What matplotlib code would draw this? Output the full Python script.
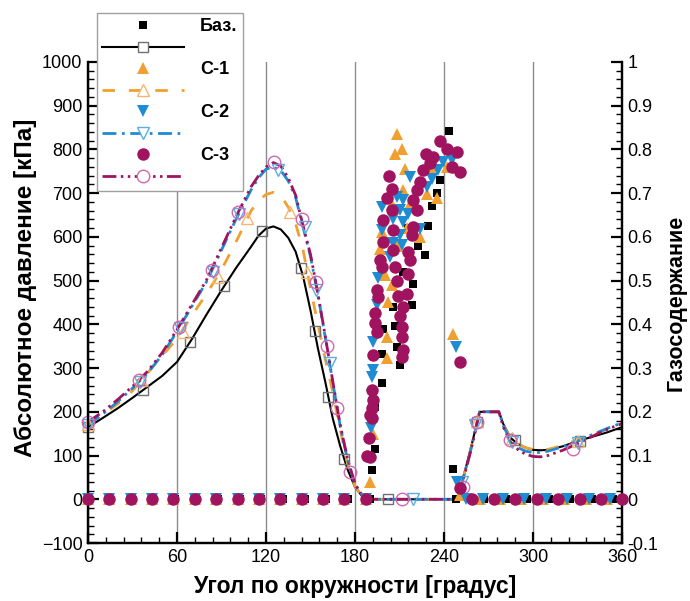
import matplotlib
matplotlib.use("Agg")
import matplotlib.pyplot as plt
from matplotlib.lines import Line2D
from matplotlib.ticker import MultipleLocator, FuncFormatter

plt.rcParams['font.family'] = ['Liberation Sans', 'DejaVu Sans']

# ---------------- data ----------------
# pressure curves (left axis, kPa)
p_x = [0, 10, 20, 30, 40, 50, 60, 70, 80, 90, 100, 110, 115, 120, 125, 130, 135, 140, 145, 150,
       155, 160, 165, 170, 175, 180, 185, 190, 200, 210, 220, 230, 240, 249, 253, 258, 262, 264,
       270, 277, 280, 285, 290, 295, 300, 305, 310, 320, 330, 340, 350, 360]
p_base = [165, 186, 208, 232, 257, 282, 314, 366, 423, 478, 530, 578, 603, 619, 624, 617, 598, 566, 510, 432,
          345, 268, 185, 122, 68, 28, 6, 0, 0, 0, 0, 0, 0, 0, 50, 115, 172, 200,
          200, 200, 172, 140, 126, 118, 113, 112, 113, 121, 133, 143, 153, 165]
p_c1 = [172, 194, 218, 248, 288, 328, 367, 420, 470, 525, 590, 660, 683, 697, 702, 695, 668, 630, 570, 482,
        400, 320, 245, 160, 80, 30, 6, 0, 0, 0, 0, 0, 0, 0, 50, 115, 172, 200,
        200, 200, 170, 138, 126, 118, 114, 113, 114, 123, 136, 148, 160, 172]
p_c2 = [170, 195, 223, 254, 288, 330, 384, 441, 498, 570, 642, 708, 735, 755, 760, 752, 728, 690, 622, 555,
        468, 370, 268, 168, 90, 34, 8, 0, 0, 0, 0, 0, 0, 0, 48, 112, 170, 200,
        200, 200, 168, 133, 118, 110, 107, 107, 110, 120, 133, 148, 162, 175]
p_c3 = [177, 200, 228, 258, 292, 335, 388, 445, 502, 575, 648, 715, 740, 760, 770, 762, 735, 695, 625, 560,
        470, 372, 270, 170, 92, 35, 8, 0, 0, 0, 0, 0, 0, 0, 45, 110, 170, 200,
        200, 200, 165, 130, 113, 103, 98, 97, 100, 112, 127, 144, 160, 173]

# hollow markers on the pressure curves
mk_base_x = [0, 37, 68.8, 91.7, 117, 143.6, 153, 161.8, 172.6, 202, 262, 288, 332]
mk_base_y = [165, 249, 359, 487, 613, 528, 384, 235, 91, 0, 177, 135, 133]
mk_c1_x = [0, 36, 64, 87.6, 107, 136, 147.6, 262, 286, 330]
mk_c1_y = [172, 272, 382, 508, 643, 656, 519, 180, 140, 134]
mk_c2_x = [0, 35, 62, 84, 102, 128, 146, 154, 163, 219, 252, 261, 286, 330]
mk_c2_y = [170, 268, 392, 520, 652, 752, 623, 478, 312, 0, 40, 170, 130, 128]
mk_c3_x = [0, 34.6, 61.4, 83.4, 101, 125.4, 144, 153.5, 161, 168, 176.6, 212, 253, 262, 284.5, 327]
mk_c3_y = [177, 272, 394, 524, 656, 771, 640, 497, 350, 208, 62, 0, 28, 177, 135, 116]

# gas content (right axis)
g_base_x = [0, 14.6, 29.2, 43.8, 58.4, 73, 87.6, 102.2, 116.8, 131.4, 146, 160.6, 175.2, 189.8,
            243.6, 237.3, 231.7, 229, 227.4, 219.3, 212.6, 218.2, 207, 205.8, 199, 208, 198.4, 210.3,
            198, 193.5, 193.5, 191.2, 246.3, 215.5, 222.5, 235,
            248, 267, 282, 296, 311, 325, 340, 354]
g_base_y = [0, 0, 0, 0, 0, 0, 0, 0, 0, 0, 0, 0, 0, 0,
            0.842, 0.73, 0.67, 0.624, 0.558, 0.493, 0.52, 0.444, 0.396, 0.44, 0.39, 0.348, 0.333, 0.306,
            0.265, 0.21, 0.116, 0.066, 0.07, 0.62, 0.58, 0.70,
            0, 0, 0, 0, 0, 0, 0, 0]
g_c1_x = [0, 14.4, 28.8, 43.2, 57.6, 72, 86.4, 100.8, 115.2, 129.6, 144, 158.4, 172.8, 187.2,
          208.1, 211.5, 207, 213.7, 231.7, 241.8, 212.6, 228.3, 235.1, 204.7, 217.1, 198, 223.8,
          196.9, 200.2, 202.5, 201.4, 201.4, 192, 190, 246.3, 215, 208.5, 205,
          251, 264, 278, 292, 307, 321, 336, 350]
g_c1_y = [0, 0, 0, 0, 0, 0, 0, 0, 0, 0, 0, 0, 0, 0,
          0.835, 0.80, 0.79, 0.756, 0.76, 0.76, 0.707, 0.699, 0.688, 0.676, 0.676, 0.611, 0.60,
          0.573, 0.512, 0.451, 0.371, 0.322, 0.15, 0.04, 0.379, 0.62, 0.58, 0.49,
          0.01, 0, 0, 0, 0, 0, 0, 0]
g_c2_x = [0, 14.4, 28.8, 43.2, 57.6, 72, 86.4, 100.8, 115.2, 129.6, 144, 158.4, 172.8, 187.2,
          239.5, 245.2, 236.2, 231.7, 217.1, 228.3, 208.1, 212.6, 198, 210.3, 216, 205.8, 212.6,
          223.8, 198, 210.3, 205.8, 211.5, 203.6, 195.7, 194.6, 192.3, 192.3, 191.2, 191.5, 191,
          248, 248.5,
          255, 266, 280, 294, 309, 323, 338, 352]
g_c2_y = [0, 0, 0, 0, 0, 0, 0, 0, 0, 0, 0, 0, 0, 0,
          0.771, 0.775, 0.752, 0.733, 0.737, 0.714, 0.691, 0.684, 0.668, 0.661, 0.653, 0.642, 0.634,
          0.619, 0.615, 0.604, 0.585, 0.581, 0.554, 0.505, 0.444, 0.36, 0.295, 0.28, 0.238, 0.162,
          0.348, 0.04,
          0, 0, 0, 0, 0, 0, 0, 0]
g_c3_x = [0, 14.4, 28.8, 43.2, 57.6, 72, 86.4, 100.8, 115.2, 129.6, 144, 158.4, 172.8, 187.2,
          237.3, 241.8, 248.5, 227.9, 232.8, 245.2, 250.8, 230.6, 226, 223.8, 221.6, 219.3, 221.6,
          203.1, 204.7, 201.4, 204.7, 199.1, 205.8, 219.3, 218.2, 199.1, 205.4, 216, 217.1, 196.9,
          198, 207, 216, 208.1, 194.6, 195.7, 209.2, 214.9, 212.6, 193.5, 193.5, 210.3, 211.5,
          194.6, 211.5, 212.6, 192.3, 211.5, 191.2, 192, 190.1, 191.2, 191.2, 190, 189.5, 188,
          250.8, 250.8,
          259, 273.5, 288, 302.5, 317, 331.5, 346, 360]
g_c3_y = [0, 0, 0, 0, 0, 0, 0, 0, 0, 0, 0, 0, 0, 0,
          0.82, 0.80, 0.794, 0.79, 0.783, 0.76, 0.748, 0.768, 0.752, 0.726, 0.707, 0.684, 0.661,
          0.739, 0.71, 0.688, 0.661, 0.638, 0.615, 0.623, 0.604, 0.588, 0.569, 0.566, 0.547, 0.547,
          0.531, 0.531, 0.516, 0.50, 0.478, 0.463, 0.466, 0.47, 0.44, 0.425, 0.402, 0.42, 0.394,
          0.383, 0.371, 0.341, 0.329, 0.325, 0.249, 0.226, 0.192, 0.208, 0.185, 0.097, 0.14, 0.10,
          0.314, 0.025,
          0, 0, 0, 0, 0, 0, 0, 0]

x_ticks = [0, 60, 120, 180, 240, 300, 360]
labels = ['Баз.', '', 'С-1', '', 'С-2', '', 'С-3', '']

# ---------------- styles ----------------
C_BLACK = '#000000'
C_ORANGE = '#F0A030'
C_BLUE = '#1E8CD2'
C_PURPLE = '#A0145F'
H_GRAY = '#707070'
H_ORANGE = '#F2B870'
H_BLUE = '#5AAEE2'
H_PURPLE = '#D068B0'

fig = plt.figure(figsize=(6.9, 6.01), dpi=100)
ax = fig.add_axes([88 / 690, 1 - 543 / 601, (622 - 88) / 690, (543 - 62) / 601])
ax2 = ax.twinx()

lw_b = 1.5
lw_d = 2.0
ax.plot(p_x, p_base, color=C_BLACK, lw=lw_b, zorder=3)
ax.plot(p_x, p_c1, color=C_ORANGE, lw=lw_d, dashes=(4.5, 5), zorder=3)
ax.plot(p_x, p_c2, color=C_BLUE, lw=lw_d, dashes=(5, 2, 1, 2), zorder=3)
ax.plot(p_x, p_c3, color=C_PURPLE, lw=lw_d, dashes=(5, 1.6, 0.9, 1.6, 0.9, 1.6), zorder=3)

ax.plot(mk_base_x, mk_base_y, ls='none', marker='s', ms=7, mfc='none', mec=H_GRAY, mew=1.0, clip_on=False, zorder=4)
ax.plot(mk_c1_x, mk_c1_y, ls='none', marker='^', ms=8, mfc='none', mec=H_ORANGE, mew=1.0, clip_on=False, zorder=4)
ax.plot(mk_c2_x, mk_c2_y, ls='none', marker='v', ms=8, mfc='none', mec=H_BLUE, mew=1.0, clip_on=False, zorder=4)
ax.plot(mk_c3_x, mk_c3_y, ls='none', marker='o', ms=9, mfc='none', mec=H_PURPLE, mew=1.0, clip_on=False, zorder=4)

ax2.plot(g_base_x, g_base_y, ls='none', marker='s', ms=6, color=C_BLACK, mew=0, clip_on=False, zorder=2)
ax2.plot(g_c1_x, g_c1_y, ls='none', marker='^', ms=8, color=C_ORANGE, mew=0, clip_on=False, zorder=3)
ax2.plot(g_c2_x, g_c2_y, ls='none', marker='v', ms=8, color=C_BLUE, mew=0, clip_on=False, zorder=4)
ax2.plot(g_c3_x, g_c3_y, ls='none', marker='o', ms=9, color=C_PURPLE, mew=0, clip_on=False, zorder=5)

# axes
ax.set_xlim(0, 360)
ax.set_ylim(-100, 1000)
ax2.set_ylim(-0.1, 1.0)
ax.set_xticks(x_ticks)
ax.xaxis.set_minor_locator(MultipleLocator(12))
ax.yaxis.set_major_locator(MultipleLocator(100))
ax.yaxis.set_minor_locator(MultipleLocator(20))
ax2.yaxis.set_major_locator(MultipleLocator(0.1))
ax2.yaxis.set_minor_locator(MultipleLocator(0.02))
ax2.yaxis.set_major_formatter(FuncFormatter(lambda v, p: '%g' % round(v, 2)))

ax.grid(axis='x', which='major', color='#8c8c8c', lw=1.0)
ax.set_axisbelow(True)

for a in (ax, ax2):
    a.spines['top'].set_visible(False)
    for s in ('left', 'right', 'bottom'):
        a.spines[s].set_linewidth(1.6)
ax.tick_params(axis='both', which='major', direction='in', length=8, width=1.6, labelsize=13, pad=4)
ax.tick_params(axis='both', which='minor', direction='in', length=4.5, width=1.0)
ax.tick_params(axis='y', right=False)
ax.tick_params(axis='x', top=False, which='both')
ax2.tick_params(axis='y', which='major', direction='in', length=8, width=1.6, labelsize=13, pad=4)
ax2.tick_params(axis='y', which='minor', direction='in', length=4.5, width=1.0)

ax.set_xlabel('Угол по окружности [градус]', fontsize=16.5, fontweight='bold', labelpad=7)
ax.set_ylabel('Абсолютное давление [кПа]', fontsize=17.5, fontweight='bold', labelpad=4)
ax.yaxis.set_label_coords(-0.095, 0.53)
ax2.set_ylabel('Газосодержание', fontsize=15.5, fontweight='bold')
ax2.yaxis.set_label_coords(1.082, 0.5)

# legend
handles = [
    Line2D([], [], ls='none', marker='s', ms=6, color=C_BLACK, mew=0),
    Line2D([], [], color=C_BLACK, lw=lw_b, marker='s', ms=7, mfc='white', mec=H_GRAY, mew=1.0),
    Line2D([], [], ls='none', marker='^', ms=8, color=C_ORANGE, mew=0),
    Line2D([], [], color=C_ORANGE, lw=lw_d, dashes=(4.5, 5), marker='^', ms=8, mfc='white', mec=H_ORANGE, mew=1.0),
    Line2D([], [], ls='none', marker='v', ms=8, color=C_BLUE, mew=0),
    Line2D([], [], color=C_BLUE, lw=lw_d, dashes=(5, 2, 1, 2), marker='v', ms=8, mfc='white', mec=H_BLUE, mew=1.0),
    Line2D([], [], ls='none', marker='o', ms=9, color=C_PURPLE, mew=0),
    Line2D([], [], color=C_PURPLE, lw=lw_d, dashes=(5, 1.6, 0.9, 1.6, 0.9, 1.6), marker='o', ms=9, mfc='white', mec=H_PURPLE, mew=1.0),
]
leg = ax2.legend(handles, labels, loc='upper left', bbox_to_anchor=(97 / 690, 1 - 13 / 601),
                 bbox_transform=fig.transFigure, borderaxespad=0, borderpad=0.3,
                 handlelength=4.5, handletextpad=0.9, labelspacing=0.25,
                 prop={'family': ['Liberation Sans', 'DejaVu Sans'], 'weight': 'bold', 'size': 13},
                 fancybox=False, framealpha=1, edgecolor='#a0a0a0', facecolor='white')
leg.get_frame().set_linewidth(1.0)
leg.set_zorder(10)

fig.savefig('out.png', dpi=100)
